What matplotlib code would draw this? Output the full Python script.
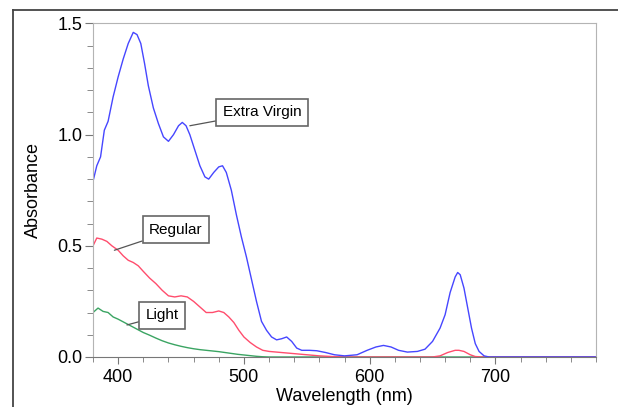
from matplotlib import pyplot as plt
from matplotlib.lines import Line2D
from matplotlib.ticker import MultipleLocator

plt.rcParams['font.family'] = ['Liberation Sans', 'DejaVu Sans']

# Extra Virgin
ev_wl = [380, 383, 386, 389, 392, 396, 400, 404, 408, 412, 415, 418, 421, 424, 428,
         432, 436, 440, 444, 448, 451, 454, 457, 461, 465, 469, 472, 476, 480, 483,
         486, 490, 494, 498, 502, 506, 510, 514, 518, 522, 526, 530, 534, 538, 542,
         546, 552, 558, 565, 572, 580, 590, 598, 605, 611, 617, 623, 630, 638, 644,
         650, 656, 660, 664, 668, 670, 672, 675, 678, 681, 684, 687, 691, 695, 780]
ev_abs = [0.79, 0.86, 0.90, 1.02, 1.06, 1.17, 1.26, 1.34, 1.41, 1.46, 1.45, 1.41, 1.32, 1.22, 1.12,
          1.05, 0.99, 0.97, 1.00, 1.04, 1.055, 1.04, 1.00, 0.93, 0.86, 0.81, 0.80, 0.83, 0.855, 0.86,
          0.83, 0.75, 0.64, 0.54, 0.45, 0.35, 0.25, 0.16, 0.12, 0.09, 0.077, 0.082, 0.09, 0.07, 0.04,
          0.03, 0.03, 0.028, 0.02, 0.01, 0.005, 0.01, 0.03, 0.045, 0.052, 0.045, 0.03, 0.022, 0.025, 0.035,
          0.07, 0.13, 0.19, 0.29, 0.36, 0.38, 0.37, 0.31, 0.22, 0.13, 0.06, 0.025, 0.005, 0.0, 0.0]

# Regular
reg_wl = [380, 383, 387, 391, 395, 400, 404, 408, 412, 416, 420, 425, 430, 435, 440,
          445, 450, 455, 460, 465, 470, 475, 480, 484, 488, 492, 496, 500, 505, 510,
          515, 520, 530, 540, 550, 560, 570, 580, 650, 656, 662, 668, 671, 675, 680,
          684, 690, 780]
reg_abs = [0.50, 0.535, 0.53, 0.52, 0.50, 0.48, 0.455, 0.435, 0.425, 0.41, 0.385, 0.355, 0.33, 0.30, 0.275,
           0.27, 0.275, 0.27, 0.25, 0.225, 0.20, 0.20, 0.207, 0.20, 0.18, 0.155, 0.12, 0.09, 0.065, 0.045,
           0.03, 0.025, 0.02, 0.015, 0.01, 0.005, 0.002, 0.0, 0.0, 0.005, 0.02, 0.03, 0.03, 0.025, 0.01,
           0.002, 0.0, 0.0]

# Light
light_wl = [380, 384, 388, 392, 396, 400, 405, 410, 415, 420, 425, 430, 435, 440, 445,
            450, 455, 460, 465, 470, 475, 480, 485, 490, 495, 500, 505, 510, 515, 520, 780]
light_abs = [0.20, 0.22, 0.205, 0.20, 0.18, 0.17, 0.155, 0.14, 0.125, 0.11, 0.098, 0.085, 0.073, 0.063, 0.055,
             0.048, 0.042, 0.037, 0.033, 0.030, 0.027, 0.024, 0.020, 0.016, 0.012, 0.009, 0.006, 0.003, 0.001, 0.0, 0.0]

fig = plt.figure(figsize=(6.18, 4.07), dpi=100)
ax = fig.add_axes([0.1505, 0.1229, 0.8139, 0.8194])

ax.plot(light_wl, light_abs, color='#3aa462', lw=1.0)
ax.plot(reg_wl, reg_abs, color='#ff4d6d', lw=1.0)
ax.plot(ev_wl, ev_abs, color='#4646ff', lw=1.0)

ax.set_xlim(380, 780)
ax.set_ylim(0, 1.5)
ax.xaxis.set_major_locator(MultipleLocator(100))
ax.xaxis.set_minor_locator(MultipleLocator(20))
ax.yaxis.set_major_locator(MultipleLocator(0.5))
ax.yaxis.set_minor_locator(MultipleLocator(0.1))
ax.yaxis.set_major_formatter(plt.FormatStrFormatter('%.1f'))

for side in ['top', 'right', 'left']:
    ax.spines[side].set_color('#b4b4b4')
ax.spines['bottom'].set_color('#777777')
ax.tick_params(axis='both', which='both', colors='#777777', labelcolor='black', labelsize=13)
ax.tick_params(axis='y', which='major', length=6, pad=1.5)
ax.tick_params(axis='y', which='minor', length=4)
ax.tick_params(axis='x', which='major', length=5, pad=4)
ax.tick_params(axis='x', which='minor', length=3.5)

ax.set_xlabel('Wavelength (nm)', fontsize=13, labelpad=1)
ax.set_ylabel('Absorbance', fontsize=13, labelpad=11)

box = dict(boxstyle='square,pad=0.42', fc='white', ec='#666666', lw=1.2)
arrow = dict(arrowstyle='-', color='#555555', lw=0.9, shrinkA=0, shrinkB=0)
ax.annotate('Extra Virgin', xy=(457, 1.04), xytext=(483, 1.10), fontsize=11,
            bbox=box, arrowprops=arrow, ha='left', va='center')
ax.annotate('Regular', xy=(397, 0.48), xytext=(424.5, 0.572), fontsize=11,
            bbox=box, arrowprops=arrow, ha='left', va='center')
ax.annotate('Light', xy=(407, 0.144), xytext=(422, 0.187), fontsize=11,
            bbox=box, arrowprops=arrow, ha='left', va='center')

# outer frame around the plot
fig.add_artist(Line2D([13 / 618, 1.0], [1 - 10 / 407, 1 - 10 / 407], color='#444444', lw=1.3))
fig.add_artist(Line2D([13 / 618, 13 / 618], [0.0, 1 - 10 / 407], color='#444444', lw=1.3))

plt.savefig('out.png', dpi=100)
